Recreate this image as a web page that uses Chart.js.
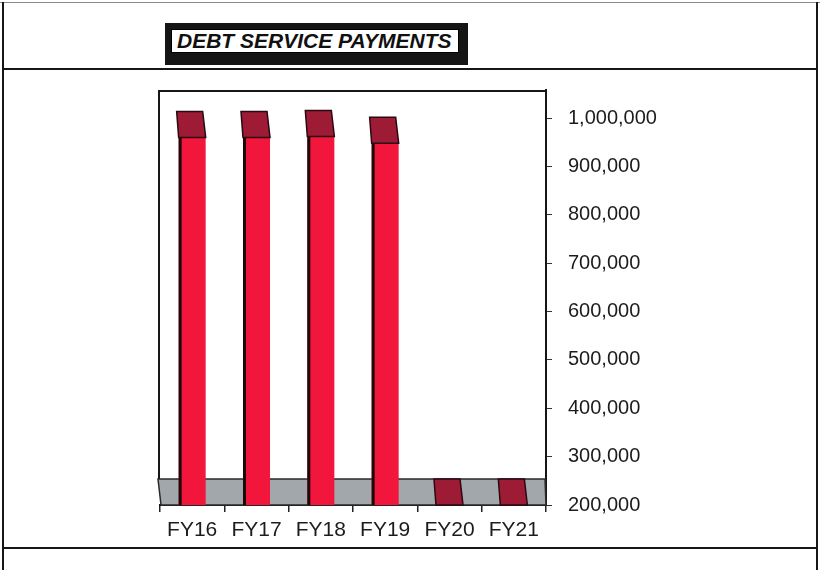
<!DOCTYPE html>
<html><head><meta charset="utf-8">
<script src="https://cdn.jsdelivr.net/npm/chart.js@4"></script>
<style>
html,body{margin:0;padding:0;background:#fff;width:820px;height:570px;overflow:hidden;}
#wrap{position:relative;width:820px;height:570px;}
canvas{position:absolute;left:0;top:0;}
.ln{position:absolute;background:#161616;}
#shadow{position:absolute;left:165px;top:23px;width:303px;height:42px;background:#151515;}
#title{position:absolute;left:171px;top:29px;width:281px;height:22px;padding-left:5px;background:#fff;border:1px solid #000;
 font:italic bold 21px 'Liberation Sans',Arial,sans-serif;line-height:22px;color:#111;white-space:nowrap;}
</style></head><body>
<div id="wrap">
<canvas id="c" width="820" height="570"></canvas>
<div class="ln" style="left:0;top:2px;width:820px;height:1px;background:#8a8a8a"></div>
<div class="ln" style="left:2px;top:2px;width:2px;height:568px"></div>
<div class="ln" style="left:816px;top:2px;width:2px;height:568px"></div>
<div class="ln" style="left:2px;top:68px;width:816px;height:2px"></div>
<div class="ln" style="left:2px;top:547px;width:816px;height:2px"></div>
<div id="shadow"></div>
<div id="title">DEBT SERVICE PAYMENTS</div>
</div>
<script>
const categories = ['FY16', 'FY17', 'FY18', 'FY19', 'FY20', 'FY21'];
const payments = [960000, 960000, 962000, 948000, 0, 0];
const yTicks = [200000, 300000, 400000, 500000, 600000, 700000, 800000, 900000, 1000000];
const yMin = 200000;
const yMax = 1058000;

const FRONT = '#F2163C';
const CAP = '#9E1B36';
const FLOOR = '#A2A7AB';
const DEPTH = 26, SKEW = 3;

const fake3d = {
  id: 'fake3d',
  beforeDatasetsDraw(chart) {
    const {ctx, chartArea: a, scales: {y}} = chart;
    const yb = y.getPixelForValue(yMin);
    ctx.save();
    // back wall frame
    ctx.strokeStyle = '#161616'; ctx.lineWidth = 2;
    ctx.beginPath();
    ctx.moveTo(a.left - SKEW + 2, yb - DEPTH);
    ctx.lineTo(a.left - SKEW + 2, a.top + 1);
    ctx.lineTo(a.right, a.top + 1);
    ctx.stroke();
    // floor
    ctx.fillStyle = FLOOR;
    ctx.beginPath();
    ctx.moveTo(a.left - SKEW + 1, yb - DEPTH);
    ctx.lineTo(a.right - 1, yb - DEPTH);
    ctx.lineTo(a.right, yb);
    ctx.lineTo(a.left + 1, yb);
    ctx.closePath();
    ctx.fill();
    ctx.strokeStyle = '#2a2a2a'; ctx.lineWidth = 1.5;
    ctx.stroke();
    ctx.restore();
  },
  afterDatasetsDraw(chart) {
    const {ctx, scales: {y}} = chart;
    const yb = y.getPixelForValue(yMin);
    const meta = chart.getDatasetMeta(0);
    ctx.save();
    meta.data.forEach((bar, i) => {
      const p = bar.getProps(['x', 'width'], true);
      const l = p.x - p.width / 2, r = p.x + p.width / 2;
      const top = Math.min(y.getPixelForValue(payments[i]), yb);
      // left dark side
      if (top < yb) {
        ctx.fillStyle = '#1a0a0c';
        ctx.fillRect(l, top, 3, yb - top);
      }
      // top face (cap)
      ctx.fillStyle = CAP;
      ctx.beginPath();
      ctx.moveTo(l, top);
      ctx.lineTo(r, top);
      ctx.lineTo(r - SKEW, top - DEPTH);
      ctx.lineTo(l - SKEW + 1, top - DEPTH);
      ctx.closePath();
      ctx.fill();
      ctx.strokeStyle = '#2a0a10'; ctx.lineWidth = 1.5;
      ctx.stroke();
    });
    ctx.restore();
  }
};

new Chart(document.getElementById('c'), {
  type: 'bar',
  data: {
    labels: categories,
    datasets: [{
      data: payments,
      backgroundColor: (c) => (c.raw < yMin ? 'rgba(0,0,0,0)' : FRONT),
      borderWidth: 0,
      barPercentage: 0.42,
      categoryPercentage: 1
    }]
  },
  options: {
    responsive: false,
    animation: false,
    devicePixelRatio: 1,
    layout: {padding: {left: 160, top: 90, right: 0, bottom: 0}},
    plugins: {legend: {display: false}, tooltip: {enabled: false}, title: {display: false}},
    scales: {
      x: {
        offset: true,
        grid: {display: true, drawOnChartArea: false, tickLength: 7, color: '#222', lineWidth: 1.5},
        border: {display: true, color: '#161616', width: 2},
        ticks: {font: {family: "'Liberation Sans', Arial, sans-serif", size: 21}, color: '#1c1c1c', padding: 6, maxRotation: 0},
        afterFit: (s) => { s.height = 65; }
      },
      y: {
        position: 'right',
        min: yMin,
        max: yMax,
        afterBuildTicks: (s) => { s.ticks = yTicks.map(v => ({value: v})); },
        grid: {display: true, drawOnChartArea: false, tickLength: 6, color: '#333', lineWidth: 1},
        border: {display: true, color: '#161616', width: 2},
        ticks: {
          font: {family: "'Liberation Sans', Arial, sans-serif", size: 20},
          color: '#1c1c1c',
          padding: 16,
          callback: (v) => Number(v).toLocaleString('en-US')
        },
        afterFit: (s) => { s.width = 274; }
      }
    }
  },
  plugins: [fake3d]
});
</script>
</body></html>
